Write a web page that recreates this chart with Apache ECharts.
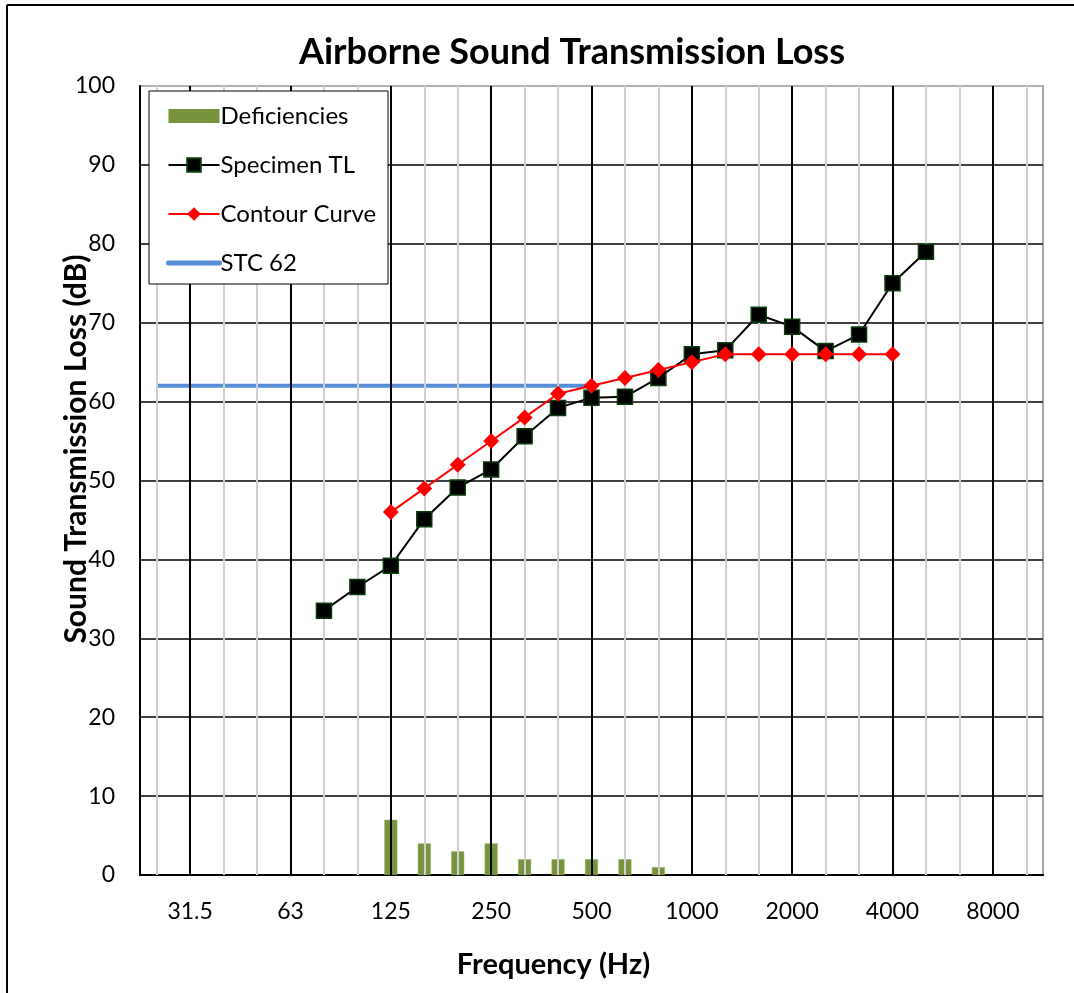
<!DOCTYPE html>
<html>
<head>
<meta charset="utf-8">
<script src="https://cdn.jsdelivr.net/npm/echarts@6/dist/echarts.min.js"></script>
<style>
html,body{margin:0;padding:0;background:#fff;}
#chart{width:1074px;height:993px;}
</style>
</head>
<body>
<div id="chart"></div>
<script>
// ---- data ----
var frequencies = ['25','31.5','40','50','63','80','100','125','160','200','250','315','400','500','630','800','1000','1250','1600','2000','2500','3150','4000','5000','6300','8000','10000'];
var octaveLabels = ['31.5','63','125','250','500','1000','2000','4000','8000'];
var deficiencies = [null,null,null,null,null,null,null,7,4,3,4,2,2,2,2,1,null,null,null,null,null,null,null,null,null,null,null];
var specimenTL = [null,null,null,null,null,33.5,36.5,39.2,45.1,49.1,51.4,55.6,59.2,60.5,60.6,63,66,66.5,71,69.5,66.4,68.5,75,79,null,null,null];
var contourCurve = [null,null,null,null,null,null,null,46,49,52,55,58,61,62,63,64,65,66,66,66,66,66,66,null,null,null,null];
var stc62 = [62,62,62,62,62,62,62,62,62,62,62,62,62,62,null,null,null,null,null,null,null,null,null,null,null,null,null];
var yTicks = [0,10,20,30,40,50,60,70,80,90,100];

var FONT = 'Lato';
var chart = echarts.init(document.getElementById('chart'));

var gridLines = frequencies.map(function (f) {
  var isOct = octaveLabels.indexOf(f) >= 0;
  return {
    xAxis: f,
    lineStyle: { color: isOct ? '#000000' : '#d0d0d0', width: 2, type: 'solid' }
  };
});

// bar legend icon: 51 x 14 rect centred in a 51 x 17 box
var barIcon = 'path://M0,1.5L51,1.5L51,15.5L0,15.5Z M0,0L0.01,0L0,0Z M0,17L0.01,17L0,17Z';

var option = {
  animation: false,
  backgroundColor: '#ffffff',
  title: {
    text: 'Airborne Sound Transmission Loss',
    left: 567,
    textAlign: 'center',
    top: 29,
    textStyle: { fontFamily: FONT, fontSize: 36, fontWeight: 'bold', color: '#000' }
  },
  grid: {
    left: 140, right: 31, top: 86, bottom: 118,
    show: true, borderColor: '#a6a6a6', borderWidth: 2, backgroundColor: '#fff'
  },
  legend: {
    orient: 'vertical',
    left: 161, top: 99,
    itemWidth: 51, itemHeight: 17,
    itemGap: 25,
    z: 101,
    selectedMode: false,
    textStyle: { fontFamily: FONT, fontSize: 24, color: '#000', lineHeight: 24, padding: [0,0,0,-4] },
    data: [
      { name: 'Deficiencies', icon: barIcon, itemStyle: { borderWidth: 0 } },
      { name: 'Specimen TL', lineStyle: { width: 2, color: '#000' } },
      { name: 'Contour Curve', lineStyle: { width: 2, color: '#ff0000' } },
      { name: 'STC 62', itemStyle: { opacity: 0 }, lineStyle: { width: 5, cap: 'round', color: '#558ED5' } }
    ]
  },
  graphic: [
    { type: 'rect', z: 100, shape: { x: 149, y: 91, width: 239, height: 193 },
      style: { fill: '#fff', stroke: '#000', lineWidth: 1 } },
    { type: 'line', z: 100, shape: { x1: 7, y1: 5, x2: 1074, y2: 5 }, style: { stroke: '#000', lineWidth: 2 } },
    { type: 'line', z: 100, shape: { x1: 7, y1: 5, x2: 7, y2: 993 }, style: { stroke: '#000', lineWidth: 2 } },
    { type: 'text', z: 100, x: 76, y: 449, rotation: Math.PI / 2,
      style: { text: 'Sound Transmission Loss (dB)', fill: '#000', align: 'center', verticalAlign: 'middle',
        font: 'bold 30px ' + FONT } }
  ],
  xAxis: {
    type: 'category',
    data: frequencies,
    boundaryGap: true,
    name: 'Frequency (Hz)',
    nameLocation: 'middle',
    nameGap: 75,
    nameTextStyle: { fontFamily: FONT, fontSize: 29, fontWeight: 'bold', color: '#000', padding: [0, 76, 0, 0] },
    axisLine: { show: true, lineStyle: { color: '#000', width: 2 } },
    axisTick: { show: false },
    splitLine: { show: false },
    axisLabel: {
      interval: 0,
      margin: 25,
      fontFamily: FONT, fontSize: 23, color: '#000',
      formatter: function (v) { return octaveLabels.indexOf(v) >= 0 ? v : ''; }
    }
  },
  yAxis: {
    type: 'value',
    min: 0, max: 100, interval: 10,
    axisLine: { show: true, lineStyle: { color: '#000', width: 2 } },
    axisTick: { show: false },
    axisLabel: { margin: 25, fontFamily: FONT, fontSize: 23, color: '#000',
      formatter: function (v) { return yTicks.indexOf(v) >= 0 ? String(v) : ''; } },
    splitLine: { show: true, lineStyle: { color: ['#404040','#404040','#404040','#404040','#404040','#404040','#404040','#404040','#404040','#404040','#b0b0b0'], width: 2 } }
  },
  series: [
    {
      name: 'gridlines', type: 'line', data: [], silent: true, z: 1,
      markLine: { silent: true, symbol: ['none','none'], label: { show: false }, animation: false, data: gridLines }
    },
    {
      name: 'Deficiencies', type: 'bar', data: deficiencies, barWidth: 13, z: 3,
      itemStyle: { color: '#77933C', borderColor: '#9bb36a', borderWidth: 0.5 }
    },
    {
      name: 'STC 62', type: 'line', data: stc62, z: 4, symbol: 'none',
      lineStyle: { color: '#558ED5', width: 4 }, itemStyle: { color: '#558ED5' }
    },
    {
      name: 'Specimen TL', type: 'line', data: specimenTL, z: 5,
      symbol: 'rect', symbolSize: 15, showAllSymbol: true,
      lineStyle: { color: '#000', width: 2 },
      itemStyle: { color: '#000', borderColor: '#0b3d0b', borderWidth: 1.5 }
    },
    {
      name: 'Contour Curve', type: 'line', data: contourCurve, z: 6,
      symbol: 'diamond', symbolSize: 16, showAllSymbol: true,
      lineStyle: { color: '#ff0000', width: 2 },
      itemStyle: { color: '#ff0000' }
    }
  ]
};
chart.setOption(option);
</script>
</body>
</html>
